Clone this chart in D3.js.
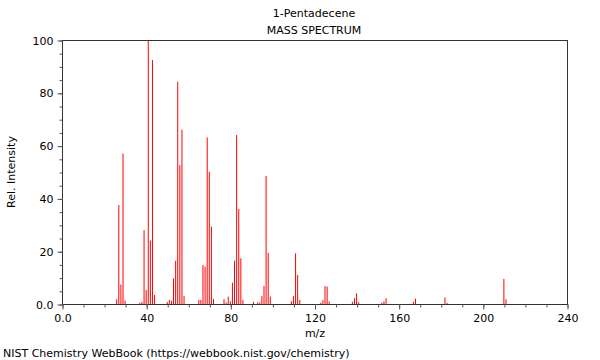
<!DOCTYPE html>
<html>
<head>
<meta charset="utf-8">
<script src="https://cdn.jsdelivr.net/npm/d3@7"></script>
<style>
  body { margin: 0; background: #fff; }
  svg text { font-family: "DejaVu Sans", sans-serif; font-size: 11px; fill: #000; }
</style>
</head>
<body>
<svg class="spectrum" width="600" height="360"></svg>
<script>
// peaks (m/z, relative intensity)
const mz = [26, 27, 28, 29, 30, 37, 38, 39, 40, 41, 42, 43, 44, 50, 51, 52, 53, 54, 55, 56, 57, 58,
  65, 66, 67, 68, 69, 70, 71, 72, 77, 78, 79, 80, 81, 82, 83, 84, 85, 86, 91, 93, 94, 95, 96, 97, 98, 99,
  109, 110, 111, 112, 113, 123, 124, 125, 126, 127, 138, 139, 140, 141, 152, 153, 154,
  167, 168, 182, 183, 210, 211]
const intensity = [1.8, 37.5, 7.4, 57, 1.3, 0.5, 0.8, 28, 5.3, 100, 24, 92.4, 3.4, 0.8, 1.5, 1.2, 9.7, 16.4, 84.2, 52.6, 66, 3,
  1.5, 1.5, 14.8, 14.1, 63.1, 50.1, 29.3, 1.8, 1.8, 0.6, 2.8, 1, 8.1, 16.4, 64, 36, 17.3, 1.5, 0.8, 0.6, 0.6, 3, 6.9, 48.5, 19.4, 2.8,
  1.1, 3, 19.2, 11, 1.5, 0.5, 1.5, 6.8, 6.6, 1, 0.9, 2.2, 4, 0.7, 0.5, 1, 2.2,
  0.8, 2, 2.5, 0.4, 9.5, 1.8]

const xMajor = [0, 40, 80, 120, 160, 200, 240]
const yMajor = [0, 20, 40, 60, 80, 100]

const peaks = mz.map((m, i) => ({mz: m, y: intensity[i]}))

let svg = d3.select("svg.spectrum")
let pLeft = 62, pRight = 567, pTop = 40, pBottom = 304

let x = d3.scaleLinear().domain([0, 240]).range([pLeft, pRight])
let y = d3.scaleLinear().domain([0, 100]).range([pBottom, pTop])

// peaks
svg.append("g")
  .selectAll("line")
  .data(peaks)
  .enter().append("line")
    .attr("x1", d => x(d.mz))
    .attr("x2", d => x(d.mz))
    .attr("y1", y(0))
    .attr("y2", d => y(d.y))
    .attr("stroke", "#ff0000")
    .attr("stroke-width", 1)

// frame
svg.append("rect")
    .attr("x", pLeft + 0.5).attr("y", pTop + 0.5)
    .attr("width", pRight - pLeft).attr("height", pBottom - pTop)
    .attr("fill", "none")
    .attr("stroke", "#333")

// x axis: minor every 10, labels every 40
let xAxis = svg.append("g").attr("transform", `translate(0.5, ${pBottom + 0.5})`)
xAxis.append("g").call(d3.axisBottom(x).tickValues(d3.range(0, 241, 10)).tickSize(3).tickFormat(""))
xAxis.append("g").call(d3.axisBottom(x).tickValues(xMajor).tickSize(5)
    .tickFormat(d => d === 0 ? "0.0" : d).tickPadding(5))
xAxis.selectAll(".domain").remove()
xAxis.selectAll("line").attr("stroke", "#555")
xAxis.selectAll("text").attr("font-size", null).attr("font-family", null)

// y axis: minor every 5, labels every 20
let yAxis = svg.append("g").attr("transform", `translate(${pLeft + 0.5}, 0.5)`)
yAxis.append("g").call(d3.axisLeft(y).tickValues(d3.range(0, 101, 5)).tickSize(3).tickFormat(""))
yAxis.append("g").call(d3.axisLeft(y).tickValues(yMajor).tickSize(5)
    .tickFormat(d => d === 0 ? "0.0" : d).tickPadding(4))
yAxis.selectAll(".domain").remove()
yAxis.selectAll("line").attr("stroke", "#555")
yAxis.selectAll("text").attr("font-size", null).attr("font-family", null)

// titles
svg.append("text").attr("x", 314).attr("y", 17).attr("text-anchor", "middle").text("1-Pentadecene")
svg.append("text").attr("x", 314).attr("y", 34).attr("text-anchor", "middle").text("MASS SPECTRUM")
svg.append("text").attr("x", 315).attr("y", 337).attr("text-anchor", "middle").text("m/z")
svg.append("text")
    .attr("transform", `translate(15, ${(pTop + pBottom) / 2}) rotate(-90)`)
    .attr("text-anchor", "middle")
    .text("Rel. Intensity")
svg.append("text").attr("x", 3).attr("y", 357).text("NIST Chemistry WebBook (https://webbook.nist.gov/chemistry)")
</script>
</body>
</html>
